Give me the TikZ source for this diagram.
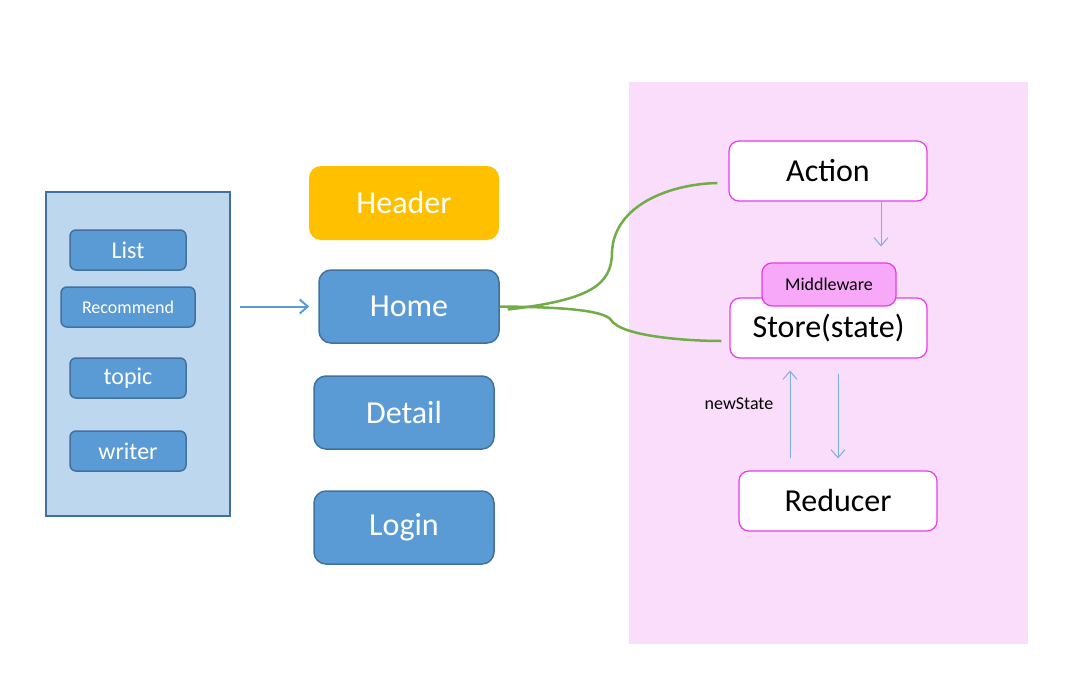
\documentclass[tikz,border=0pt]{standalone}
\usepackage{fontspec}
\setmainfont{Carlito}
\usetikzlibrary{arrows.meta,positioning}
\definecolor{boxblue}{HTML}{5B9BD5}
\definecolor{edgeblue}{HTML}{41719C}
\definecolor{panelblue}{HTML}{BDD7EE}
\definecolor{headeryellow}{HTML}{FFC000}
\definecolor{bgpink}{HTML}{FADCFB}
\definecolor{edgepink}{HTML}{E83CE8}
\definecolor{midpink}{HTML}{F8A8F8}
\definecolor{linegreen}{HTML}{70AD47}

\begin{document}
\begin{tikzpicture}[x=1pt, y=-1pt, >={Straight Barb[length=8pt,width=14pt]}]
   \useasboundingbox (0,0) rectangle (1088,699);
   \fill[bgpink] (629,82) rectangle (1028,644);
   \node (panel) [draw=edgeblue, fill=panelblue, line width=2pt, minimum width=184pt, minimum height=324pt] at (138,354) {};
   \begin{scope}[every node/.style={draw=edgeblue, fill=boxblue, text=white, rounded corners=6pt, line width=1.5pt, inner sep=0pt, minimum width=116pt, minimum height=40pt, font=\fontsize{24}{28}\selectfont}]
    \node (list) at (128,250) {List};
    \node (recommend) [minimum width=134pt, font=\fontsize{18}{22}\selectfont] at (128,307) {Recommend};
    \node (topic) at (128,378) {topic};
    \node (writer) at (128,451) {writer};
   \end{scope}
   \begin{scope}[every node/.style={draw=edgeblue, fill=boxblue, text=white, rounded corners=12pt, line width=1.5pt, inner sep=0pt, minimum width=180pt, minimum height=73pt, font=\fontsize{32}{38}\selectfont}]
    \node (header) [draw=none, fill=headeryellow, minimum width=190pt, minimum height=74pt] at (404,203) {Header};
    \node (home) at (409,306.5) {Home};
    \node (detail) at (404,412.5) {Detail};
    \node (login) at (404,527.5) {Login};
   \end{scope}
   \begin{scope}[every node/.style={draw=edgepink, fill=white, rounded corners=10pt, line width=1.2pt, inner sep=0pt, minimum width=198pt, minimum height=60pt, font=\fontsize{32}{38}\selectfont}]
    \node (action) at (828,171) {Action};
    \node (store) [minimum width=197pt] at (828.5,328) {Store(state)};
    \node (middleware) [fill=midpink, minimum width=134pt, minimum height=43pt, font=\fontsize{18}{22}\selectfont] at (829,284.5) {Middleware};
    \node (reducer) at (838,501) {Reducer};
   \end{scope}
   \node (newstate) [inner sep=0pt, font=\fontsize{18}{22}\selectfont] at (739,404) {newState};
   \draw[->, boxblue, line width=2pt, shorten <=9pt, shorten >=9pt] (panel.east |- home.west) -- (home.west);
   \begin{scope}[->, boxblue!80, line width=1pt]
    \draw ([xshift=53]action.south) -- ([xshift=53]action.south |- middleware.north) [shorten >=16pt];
    \draw [shorten <=12pt, shorten >=12pt] ([xshift=-38.5]reducer.north -| store.south) -- ([xshift=-38.5]store.south);
    \draw [shorten <=15pt, shorten >=12pt] ([xshift=9.5]store.south) -- ([xshift=9.5]store.south |- reducer.north);
   \end{scope}
   \begin{scope}[linegreen, line width=2.5pt]
    \draw ([shift={(8,3)}]home.east) .. controls (590,300) and (612,285) .. (612,252) .. controls (614,205) and (670,184) .. ([shift={(-11,12)}]action.west);
    \draw (home.east) .. controls (560,307) and (604,310) .. (611,320) .. controls (622,337) and (690,341) .. ([shift={(-8,13)}]store.west);
   \end{scope}
\end{tikzpicture}
\end{document}
